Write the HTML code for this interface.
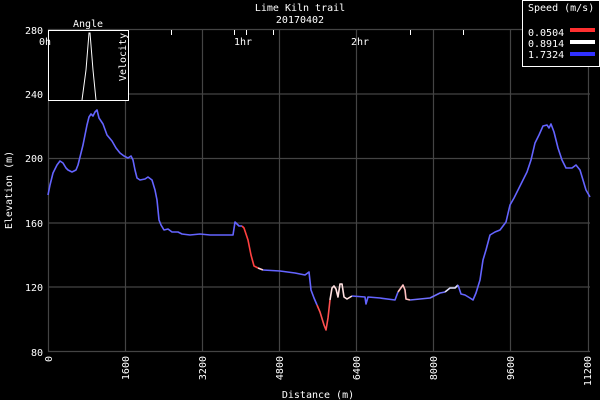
<!DOCTYPE html>
<html><head><meta charset="utf-8"><style>
html,body{margin:0;padding:0;background:#000;}
svg{display:block;font-family:"DejaVu Sans Mono","Liberation Mono",monospace;}
</style></head><body>
<svg width="600" height="400" viewBox="0 0 600 400" xmlns="http://www.w3.org/2000/svg">
<rect width="600" height="400" fill="#000"/>
<g stroke="#444" stroke-width="1.2">
<line x1="48" y1="29.5" x2="590" y2="29.5"/>
<line x1="48" y1="94" x2="590" y2="94"/>
<line x1="48" y1="158.5" x2="590" y2="158.5"/>
<line x1="48" y1="223" x2="590" y2="223"/>
<line x1="48" y1="287" x2="590" y2="287"/>
<line x1="48" y1="351.5" x2="590" y2="351.5"/>
<line x1="48.5" y1="29" x2="48.5" y2="352"/>
<line x1="125.5" y1="29" x2="125.5" y2="352"/>
<line x1="202.5" y1="29" x2="202.5" y2="352"/>
<line x1="279.5" y1="29" x2="279.5" y2="352"/>
<line x1="356.5" y1="29" x2="356.5" y2="352"/>
<line x1="433.5" y1="29" x2="433.5" y2="352"/>
<line x1="510.5" y1="29" x2="510.5" y2="352"/>
<line x1="588.5" y1="29" x2="588.5" y2="352"/>
</g>
<g stroke="#fff" stroke-width="1">
<line x1="171.5" y1="30" x2="171.5" y2="35"/>
<line x1="234.5" y1="30" x2="234.5" y2="35"/>
<line x1="246.5" y1="30" x2="246.5" y2="35"/>
<line x1="273.5" y1="30" x2="273.5" y2="35"/>
<line x1="410.5" y1="30" x2="410.5" y2="35"/>
<line x1="463.5" y1="30" x2="463.5" y2="35"/>
</g>
<g fill="#fff" font-size="10">
<text x="300" y="11" text-anchor="middle">Lime Kiln trail</text>
<text x="300" y="23" text-anchor="middle">20170402</text>
<text x="243" y="45" text-anchor="middle">1hr</text>
<text x="360" y="45" text-anchor="middle">2hr</text>
<text x="43" y="34" text-anchor="end">280</text>
<text x="43" y="98" text-anchor="end">240</text>
<text x="43" y="162" text-anchor="end">200</text>
<text x="43" y="227" text-anchor="end">160</text>
<text x="43" y="291" text-anchor="end">120</text>
<text x="43" y="356" text-anchor="end">80</text>
<text x="318" y="398" text-anchor="middle">Distance (m)</text>
<text transform="translate(12,190) rotate(-90)" text-anchor="middle">Elevation (m)</text>
<g text-anchor="end">
<text transform="translate(52,356) rotate(-90)">0</text>
<text transform="translate(129,356) rotate(-90)">1600</text>
<text transform="translate(206,356) rotate(-90)">3200</text>
<text transform="translate(283,356) rotate(-90)">4800</text>
<text transform="translate(360,356) rotate(-90)">6400</text>
<text transform="translate(437,356) rotate(-90)">8000</text>
<text transform="translate(514,356) rotate(-90)">9600</text>
<text transform="translate(591,356) rotate(-90)">11200</text>
</g>
</g>
<g fill="none" stroke-width="1.6" stroke-linejoin="round">
<polyline stroke="#6464ff" points="48,195 50,185 53,173 57,165 60,161 63,163 66,168 68,170 72,172 76,170 78,165 80,157 83,145 85,135 87,125 89,117 91,114 93,116 95,112 97,110 99,118 103,124 107,135 112,141 116,148 120,153 124,156 128,158 131,156 133,160 135,170 137,178 140,180 145,179 148,177 152,180 155,190 157,200 159,220 161,225 164,230 168,229 172,232 178,232 182,234 190,235 200,234 210,235 220,235 233,235 235,222 239,226 242,226"/>
<polyline stroke="#ff4040" points="242,226 244,228 248,240 251,255 254,266 258,268"/>
<polyline stroke="#ffd0d0" points="258,268 263,270"/>
<polyline stroke="#6464ff" points="263,270 280,271 295,273 305,275 309,272 311,290 314,298 317,305"/>
<polyline stroke="#ff5050" points="317,305 320,312 324,325 326,330 328,318 330,300"/>
<polyline stroke="#ffe0e0" points="330,300 332,288 334,286 336,289 338,297 340,284 342,284 344,297 347,299 352,296"/>
<polyline stroke="#6464ff" points="352,296 365,297 366,304 368,297 380,298 395,300 398,292"/>
<polyline stroke="#ffc0c0" points="398,292 403,285 405,290 406,299 410,300"/>
<polyline stroke="#7070ff" points="410,300 430,298 440,293 445,292"/>
<polyline stroke="#e0e0ff" points="445,292 450,288 455,288 458,285"/>
<polyline stroke="#6464ff" points="458,285 461,294 465,295 470,298 473,300 476,293 480,280 483,260 486,250 490,235 495,232 500,230 506,222 510,205 514,198 518,190 523,180 527,172 531,160 535,143 539,135 543,126 547,125 549,128 551,124 554,132 558,148 562,160 566,168 572,168 576,165 580,170 586,190 590,197"/>
</g>
<rect x="48.5" y="30.5" width="80" height="70" fill="#000" stroke="#fff" stroke-width="1"/>
<polyline fill="none" stroke="#fff" stroke-width="1" points="82,100 86,70 89,33 90,33 93,70 96,100"/>
<text x="88" y="27" fill="#fff" font-size="10" text-anchor="middle">Angle</text>
<text x="39" y="45" fill="#fff" font-size="10">0h</text>
<text transform="translate(126,57) rotate(-90)" fill="#fff" font-size="10" text-anchor="middle">Velocity</text>
<rect x="522.5" y="0.5" width="77" height="66" fill="#000" stroke="#fff" stroke-width="1"/>
<g fill="#fff" font-size="10">
<text x="528" y="11">Speed (m/s)</text>
<text x="528" y="36">0.0504</text>
<text x="528" y="47">0.8914</text>
<text x="528" y="58">1.7324</text>
</g>
<rect x="570" y="28" width="25" height="4" fill="#ff3030"/>
<rect x="570" y="40" width="25" height="4" fill="#ffffff"/>
<rect x="570" y="52" width="25" height="4" fill="#3030ff"/>
</svg>
</body></html>
